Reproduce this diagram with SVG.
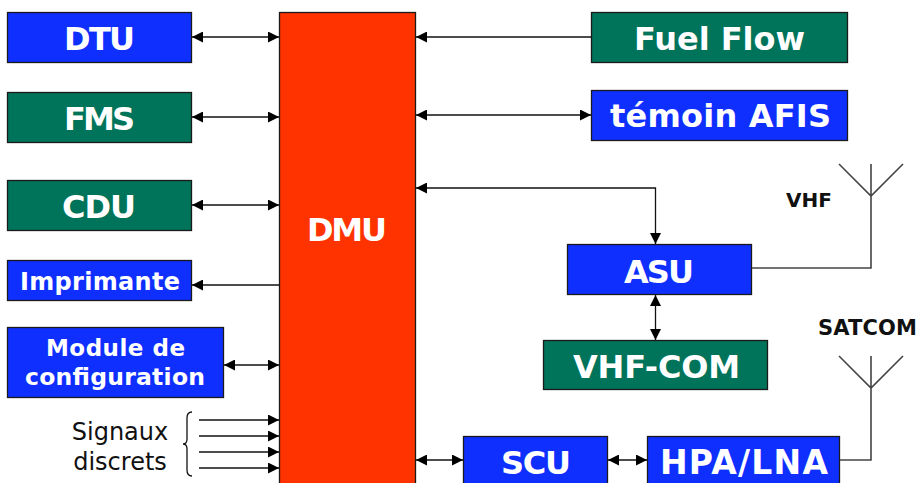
<svg xmlns="http://www.w3.org/2000/svg" width="920" height="483" viewBox="0 0 920 483">
<style>
.b{stroke:#1a1a1a;stroke-width:1.3}
.bl{fill:#0f2fff}.gr{fill:#00745a}
text{font-family:"DejaVu Sans",Verdana,sans-serif}
.t{fill:#fff;font-weight:bold;text-anchor:middle}
.l{fill:#111;font-weight:bold;text-anchor:middle}
.c{fill:none;stroke:#111;stroke-width:1.3}
.a{fill:none;stroke:#444;stroke-width:1.6}
</style>
<defs>
<marker id="e" viewBox="0 0 11 11" refX="11" refY="5.500" markerWidth="11" markerHeight="11" markerUnits="userSpaceOnUse" orient="auto-start-reverse"><path d="M0 0L11 5.500L0 11Z" fill="#000"/></marker>
</defs>
<g id="DMU"><rect x="279.500" y="12.500" width="136" height="475" fill="#ff3300" class="b"/><text class="t" x="347" y="241" font-size="32" textLength="80">DMU</text></g>
<g id="DTU"><rect x="7.500" y="12.500" width="184" height="50" class="b bl"/><text class="t" x="99.500" y="50" font-size="32" textLength="71">DTU</text></g>
<g id="FMS"><rect x="7.500" y="92.500" width="184" height="50" class="b gr"/><text class="t" x="99.500" y="130" font-size="32" textLength="71">FMS</text></g>
<g id="CDU"><rect x="7.500" y="180.500" width="184" height="50" class="b gr"/><text class="t" x="99" y="218" font-size="32" textLength="74">CDU</text></g>
<g id="Imprimante"><rect x="7.500" y="260.500" width="184" height="40" class="b bl"/><text class="t" x="100" y="290" font-size="24" textLength="160">Imprimante</text></g>
<g id="Module"><rect x="7.500" y="327.500" width="216" height="70" class="b bl"/><text class="t" x="115.500" y="356" font-size="23" textLength="139">Module de</text><text class="t" x="115" y="385" font-size="23.500" textLength="180">configuration</text></g>
<g id="Fuel"><rect x="591.500" y="12.500" width="256" height="50" class="b gr"/><text class="t" x="719.500" y="50" font-size="32" textLength="171">Fuel Flow</text></g>
<g id="Temoin"><rect x="591.500" y="90.500" width="256" height="50" class="b bl"/><text class="t" x="720.500" y="127" font-size="32" textLength="221">témoin AFIS</text></g>
<g id="ASU"><rect x="567.500" y="244.500" width="184" height="50" class="b bl"/><text class="t" x="659" y="283" font-size="32" textLength="70">ASU</text></g>
<g id="VHFCOM"><rect x="543.500" y="340.500" width="224" height="49" class="b gr"/><text class="t" x="656.500" y="378" font-size="32" textLength="167">VHF-COM</text></g>
<g id="SCU"><rect x="463.500" y="436.500" width="144" height="50" class="b bl"/><text class="t" x="536" y="474" font-size="32" textLength="70">SCU</text></g>
<g id="HPA"><rect x="647.500" y="436.500" width="192" height="50" class="b bl"/><text class="t" x="744" y="474" font-size="33" textLength="168">HPA/LNA</text></g>
<g id="connectors">
<path class="c" marker-start="url(#e)" marker-end="url(#e)" d="M192 37H279"/>
<path class="c" marker-start="url(#e)" marker-end="url(#e)" d="M192 117H279"/>
<path class="c" marker-start="url(#e)" marker-end="url(#e)" d="M192 205H279"/>
<path class="c" marker-end="url(#e)" d="M279 285H192"/>
<path class="c" marker-start="url(#e)" marker-end="url(#e)" d="M224 365H279"/>
<path class="c" marker-end="url(#e)" d="M199 420H279"/>
<path class="c" marker-end="url(#e)" d="M199 436H279"/>
<path class="c" marker-end="url(#e)" d="M199 452H279"/>
<path class="c" marker-end="url(#e)" d="M199 468H279"/>
<path class="c" marker-end="url(#e)" d="M591 37H416"/>
<path class="c" marker-start="url(#e)" marker-end="url(#e)" d="M416 115H591"/>
<path class="c" marker-start="url(#e)" marker-end="url(#e)" d="M416 188H655.500V244"/>
<path class="c" marker-start="url(#e)" marker-end="url(#e)" d="M655.500 295V340"/>
<path class="c" marker-start="url(#e)" marker-end="url(#e)" d="M416 460H463"/>
<path class="c" marker-start="url(#e)" marker-end="url(#e)" d="M608 460H647"/>
<path class="a" d="M752 268H871V164M839 164L871 196L903 164"/>
<path class="a" d="M840 460H871V356M839 356L871 388L903 356"/>
<path class="c" d="M192 412Q187 412 187 418V439Q187 444 183 444Q187 444 187 449V470Q187 476 192 476"/>
</g>
<text class="l" x="809" y="207" font-size="20" textLength="46">VHF</text>
<text class="l" x="867.500" y="335" font-size="21" textLength="99">SATCOM</text>
<g font-size="24" fill="#111" text-anchor="middle"><text x="120" y="440">Signaux</text><text x="120" y="470">discrets</text></g>
</svg>
